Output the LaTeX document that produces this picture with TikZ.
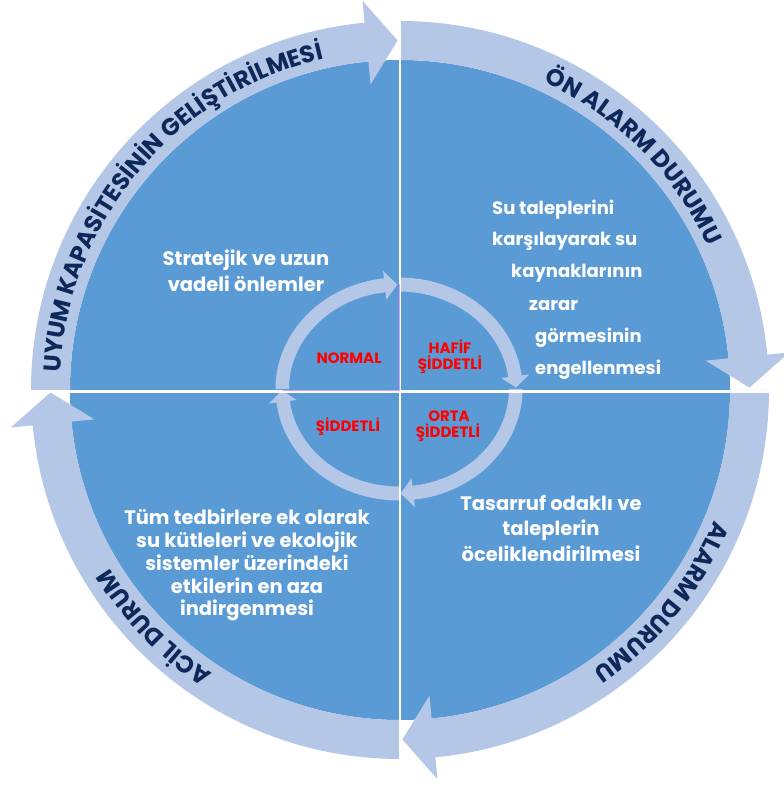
\documentclass[tikz,border=0pt]{standalone}
\usepackage{fontspec}
\setmainfont{Poppins}
\usetikzlibrary{decorations.text}
\definecolor{qfill}{RGB}{91,155,213}
\definecolor{bandc}{RGB}{180,199,231}
\definecolor{bandtext}{RGB}{14,40,90}
\definecolor{pinkl}{RGB}{225,160,230}
\newcommand\bandfont{\bfseries\fontsize{24pt}{28pt}\selectfont\color{bandtext}}
\begin{document}
\begin{tikzpicture}[x=1pt,y=1pt,
  body/.style={text=white,font=\bfseries\fontsize{19.5pt}{22pt}\selectfont,inner sep=0pt},
  bodyr/.style={text=white,font=\bfseries\fontsize{18pt}{22pt}\selectfont,inner sep=0pt},
  lab/.style={text=red,font=\bfseries\fontsize{15pt}{17pt}\selectfont,inner sep=0pt},
  sector/.style={fill=qfill},
  band/.style={fill=bandc},
  sep/.style={draw=white,line width=2.5pt},
  pinkline/.style={draw=pinkl,line width=0.8pt}]
\useasboundingbox[fill=white] (-400pt,-397pt) rectangle (384pt,390pt);
% quarter disks
\foreach \s in {180,90,0,-90}{
  \pgfmathsetmacro\e{\s-90}
  \fill[sector] (0pt,0pt) -- (\s:330pt) arc[start angle=\s,end angle=\e,radius=330pt] -- cycle;
}
% outer arrows
\foreach \s in {180,90,0,-90}{
  \pgfmathsetmacro\e{\s-90}
  \pgfmathsetmacro\hb{\e+5.5}
  \pgfmathsetmacro\tp{\e+0.4}
  \fill[band] (\s:369pt) arc[start angle=\s,end angle=\hb,radius=369pt]
    -- (\hb:391pt) -- (\tp:349.5pt) -- (\hb:307pt) -- (\hb:330pt)
    arc[start angle=\hb,end angle=\s,radius=330pt] -- cycle;
}
% inner ring arrows
\begin{scope}[shift={(-1pt,1pt)}]
\foreach \s in {180,90,0,-90}{
  \pgfmathsetmacro\e{\s-90}
  \pgfmathsetmacro\hb{\e+7}
  \pgfmathsetmacro\tp{\e+0.8}
  \fill[band] (\s:123.5pt and 111.5pt) arc[start angle=\s,end angle=\hb,x radius=123.5pt,y radius=111.5pt]
    -- (\hb:131pt and 119pt) -- (\tp:117pt and 104.5pt) -- (\hb:103pt and 90pt) -- (\hb:110pt and 97.5pt)
    arc[start angle=\hb,end angle=\s,x radius=110pt,y radius=97.5pt] -- cycle;
}
\end{scope}
% separating lines
\draw[sep] (-380pt,-1.5pt) -- (380pt,-1.5pt);
\draw[sep] (0pt,-380pt) -- (0pt,380pt);
\draw[pinkline] (-117pt,-0.8pt) -- (-0.8pt,-0.8pt) -- (-0.8pt,106pt);
% curved band labels
\path[decorate,decoration={text along path,text align=center,
  text={|\bandfont|UYUM KAPASİTESİNİN GELİŞTİRİLMESİ}}]
  (200:340pt) arc[start angle=200,end angle=80,radius=340pt];
\path[decorate,decoration={text along path,text align=center,
  text={|\bandfont|ÖN ALARM DURUMU}}]
  (105:340pt) arc[start angle=105,end angle=-15,radius=340pt];
\path[decorate,decoration={text along path,text align=center,
  text={|\bandfont|ALARM DURUMU}}]
  (21:340pt) arc[start angle=21,end angle=-99,radius=340pt];
\path[decorate,decoration={text along path,text align=center,
  text={|\bandfont|ACİL DURUM}}]
  (-76:340pt) arc[start angle=-76,end angle=-196,radius=340pt];
% quadrant texts
\node[body,anchor=base] (tl1) at (-154pt,124pt) {Stratejik ve uzun};
\node[body,anchor=base] (tl2) at (-154pt,98pt) {vadeli önlemler};
\node[bodyr,anchor=base west] (tr1) at (92pt,175pt) {Su taleplerini};
\node[bodyr,anchor=base west] (tr2) at (92pt,144pt) {karşılayarak su};
\node[bodyr,anchor=base west] (tr3) at (111pt,112pt) {kaynaklarının};
\node[bodyr,anchor=base west] (tr4) at (129pt,79pt) {zarar};
\node[bodyr,anchor=base west] (tr5) at (135pt,47pt) {görmesinin};
\node[bodyr,anchor=base west] (tr6) at (135pt,16pt) {engellenmesi};
\node[body,anchor=base] (br1) at (151pt,-120pt) {Tasarruf odaklı ve};
\node[body,anchor=base] (br2) at (151pt,-145pt) {taleplerin};
\node[body,anchor=base] (br3) at (151pt,-171pt) {öceliklendirilmesi};
\node[body,anchor=base] (bl1) at (-153pt,-134pt) {Tüm tedbirlere ek olarak};
\node[body,anchor=base] (bl2) at (-153pt,-157pt) {su kütleleri ve ekolojik};
\node[body,anchor=base] (bl3) at (-153pt,-180pt) {sistemler üzerindeki};
\node[body,anchor=base] (bl4) at (-153pt,-203pt) {etkilerin en aza};
\node[body,anchor=base] (bl5) at (-153pt,-225pt) {indirgenmesi};
% inner labels
\node[lab,anchor=base] (normal) at (-51pt,27pt) {NORMAL};
\node[lab,anchor=base] (hafif1) at (50pt,36pt) {HAFİF};
\node[lab,anchor=base] (hafif2) at (50pt,20pt) {ŞİDDETLİ};
\node[lab,anchor=base] (sid) at (-52pt,-41pt) {ŞİDDETLİ};
\node[lab,anchor=base] (orta1) at (49pt,-31pt) {ORTA};
\node[lab,anchor=base] (orta2) at (48pt,-47pt) {ŞİDDETLİ};
\end{tikzpicture}
\end{document}
